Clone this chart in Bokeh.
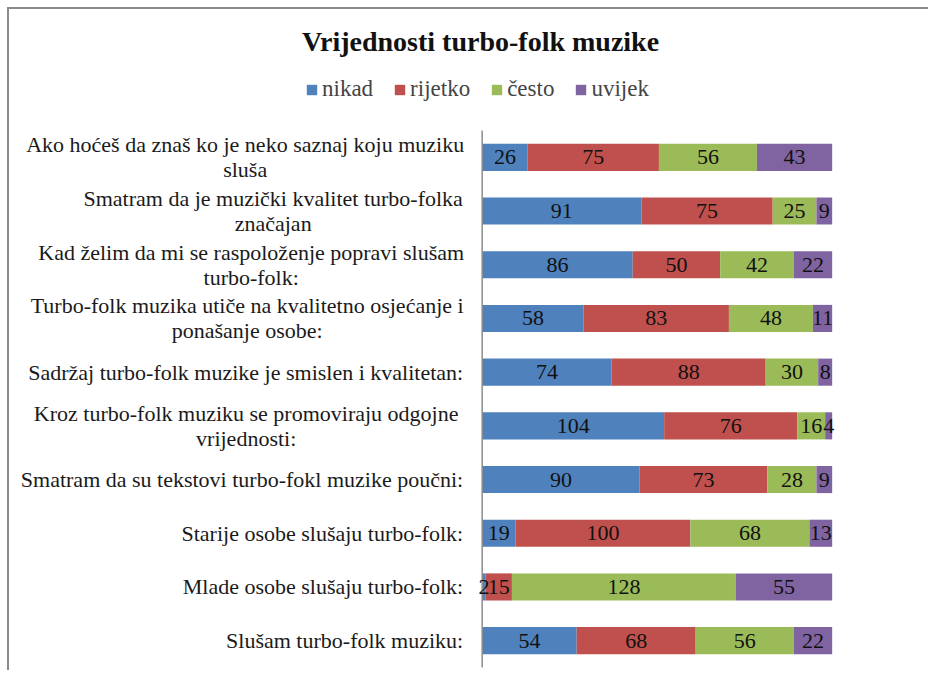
from bokeh.plotting import figure
from bokeh.models import ColumnDataSource, Range1d, Legend, LegendItem, Label
from bokeh.embed import file_html
from bokeh.resources import INLINE
from bokeh.core.properties import value
import numpy as np

# ---- data ----
categories = [
    "Ako hoćeš da znaš ko je neko saznaj koju muziku\nsluša",
    "Smatram da je muzički kvalitet turbo-folka\nznačajan",
    "Kad želim da mi se raspoloženje popravi slušam\nturbo-folk:",
    "Turbo-folk muzika utiče na kvalitetno osjećanje i\nponašanje osobe:",
    "Sadržaj turbo-folk muzike je smislen i kvalitetan:",
    "Kroz turbo-folk muziku se promoviraju odgojne\nvrijednosti:",
    "Smatram da su tekstovi turbo-fokl muzike poučni:",
    "Starije osobe slušaju turbo-folk:",
    "Mlade osobe slušaju turbo-folk:",
    "Slušam turbo-folk muziku:",
]
series_labels = ["nikad", "rijetko", "često", "uvijek"]
nikad = [26, 91, 86, 58, 74, 104, 90, 19, 2, 54]
rijetko = [75, 75, 50, 83, 88, 76, 73, 100, 15, 68]
cesto = [56, 25, 42, 48, 30, 16, 28, 68, 128, 56]
uvijek = [43, 9, 22, 11, 8, 4, 9, 13, 55, 22]
title_text = "Vrijednosti turbo-folk muzike"

colors = ["#4F81BD", "#C0504D", "#9BBB59", "#8064A2"]
keys = ["nikad", "rijetko", "cesto", "uvijek"]
FONT = "Liberation Serif"

n = len(categories)
row = np.arange(n)[::-1].astype(float)   # first category at the top

src = ColumnDataSource(dict(cat=categories, row=row, nikad=nikad, rijetko=rijetko,
                            cesto=cesto, uvijek=uvijek))

W, H = 921, 663
PX_PER_UNIT = 1.75
x_start = -270.1
p = figure(width=W, height=H,
           x_range=Range1d(x_start, x_start + W / PX_PER_UNIT),
           y_range=Range1d(-0.593, 11.753),
           output_backend="svg", toolbar_location=None,
           x_axis_location=None, y_axis_location=None,
           min_border_left=0, min_border_right=0, min_border_bottom=0,
           min_border_top=0)
p.styles = {"margin-left": "7px", "margin-top": "7px",
            "border-left": "2px solid #8a8a8a", "border-top": "2px solid #8a8a8a"}
p.grid.visible = False
p.outline_line_color = None

renderers = p.hbar_stack(keys, y="row", height=0.505, color=colors, source=src,
                         line_color=None)

# vertical category axis line
p.segment(x0=[0], y0=[row.min() - 0.5], x1=[0], y1=[row.max() + 0.5],
          line_color="#8c8c8c", line_width=1.5)

# value labels inside segments
vals = np.array([nikad, rijetko, cesto, uvijek], dtype=float)
lefts = np.vstack([np.zeros(n), np.cumsum(vals, axis=0)[:-1]])
mids = lefts + vals / 2
lx, ly, lt = [], [], []
for s in range(4):
    for i in range(n):
        lx.append(mids[s, i]); ly.append(row[i]); lt.append(str(int(vals[s, i])))
p.text(x=lx, y=ly, text=lt, text_align="center", text_baseline="middle",
       text_font=value(FONT), text_font_size="22px", text_color="#111111")

# category labels
two_line_offsets = {0: -237, 1: -209, 2: -231, 3: -235, 5: -236}
for i, c in enumerate(categories):
    if "\n" in c:
        p.text(x=[0], y=[row[i]], text=[c], x_offset=two_line_offsets[i],
               text_align="center", text_baseline="middle",
               text_font=value(FONT), text_font_size="22px",
               text_color="#1a1a1a", text_line_height=1.0)
    else:
        p.text(x=[0], y=[row[i]], text=[c], x_offset=-19,
               text_align="right", text_baseline="middle",
               text_font=value(FONT), text_font_size="22px",
               text_color="#1a1a1a")

legend = Legend(items=[LegendItem(label=l, renderers=[r]) for l, r in zip(series_labels, renderers)],
                orientation="horizontal", location=(296, 570),
                label_text_font=FONT, label_text_font_size="23px",
                glyph_width=13, glyph_height=13, label_standoff=4, spacing=20,
                padding=0, margin=0, border_line_alpha=0, background_fill_alpha=0)
p.add_layout(legend, "center")
p.add_layout(Label(x=471, y=631, x_units="screen", y_units="screen",
                   text=title_text, text_font=FONT, text_font_size="28px",
                   text_font_style="bold", text_align="center", text_baseline="middle",
                   text_color="#111111"))

open("out.html", "w").write(file_html(p, INLINE))
